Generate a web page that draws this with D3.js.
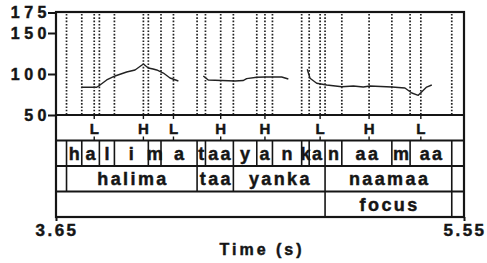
<!DOCTYPE html>
<html>
<head>
<meta charset="utf-8">
<script src="https://cdn.jsdelivr.net/npm/d3@7"></script>
<style>
  html, body { margin: 0; padding: 0; background: #fff; }
  svg { display: block; font-family: "Liberation Sans", Arial, sans-serif; font-weight: bold; }
  svg text { stroke: #151515; stroke-width: 0.45px; }
</style>
</head>
<body>
<svg id="chart"></svg>
<script>
const timeDomain = [3.65, 5.55];
const pitchDomain = [50, 175];
const pitchTicks = [50, 100, 150, 175];

// pitch track, [time s, Hz], three voiced stretches
const pitchRun1 = [[3.770, 83.8], [3.840, 83.8], [3.855, 86.6], [3.886, 92.7], [3.925, 97.6], [3.979, 102.4],
  [4.018, 104.9], [4.057, 112.2], [4.080, 107.3], [4.102, 106.1], [4.119, 104.9], [4.150, 101.2],
  [4.181, 95.1], [4.220, 91.5]];
const pitchRun2 = [[4.336, 97.6], [4.359, 92.7], [4.484, 91.5], [4.521, 92.0], [4.538, 94.3], [4.585, 96.0],
  [4.623, 96.3], [4.701, 96.3], [4.732, 93.9]];
const pitchRun3 = [[4.820, 105.7], [4.833, 94.8], [4.864, 88.7], [4.911, 86.6], [4.981, 84.5], [5.035, 85.4],
  [5.081, 84.1], [5.112, 85.4], [5.214, 84.1], [5.275, 82.9], [5.307, 76.8], [5.337, 74.0],
  [5.376, 84.1], [5.400, 86.6]];

const toneTimes = [3.828, 4.057, 4.197, 4.417, 4.623, 4.880, 5.108, 5.349];
const toneLabels = ["L", "H", "L", "H", "H", "L", "H", "L"];

const segBounds = [3.65, 3.699, 3.770, 3.852, 3.922, 4.080, 4.139, 4.307, 4.346, 4.476, 4.585, 4.658,
  4.794, 4.829, 4.903, 4.981, 5.214, 5.299, 5.493, 5.55];
const segLabels = ["", "h", "a", "l", "i", "m", "a", "t", "aa", "y", "a", "n", "k", "a", "n", "aa", "m", "aa", ""];

const wordBounds = [3.65, 3.699, 4.307, 4.476, 4.903, 5.493, 5.55];
const wordLabels = ["", "halima", "taa", "yanka", "naamaa", ""];

const focusBounds = [3.65, 4.903, 5.493, 5.55];
const focusLabels = ["", "focus", ""];

const W = 487, H = 263;
const mLeft = 56, mRight = 464, mTop = 12, plotBottom = 115;
const tierH = 25.5, mBottom = plotBottom + 4 * tierH;
const ink = "#151515";

const x = d3.scaleLinear(timeDomain, [mLeft, mRight]);
const y = d3.scaleLinear(pitchDomain, [plotBottom, mTop + 0.5]);

const svg = d3.select("#chart").attr("width", W).attr("height", H)
    .attr("viewBox", [0, 0, W, H]);

// dotted boundary lines in the pitch panel
const dotted = segBounds.slice(1, -1).concat(toneTimes);
svg.append("g")
    .attr("stroke", "#222")
    .attr("stroke-width", 1.7)
    .attr("stroke-dasharray", "1.6,1.7")
  .selectAll("line")
  .data(dotted)
  .join("line")
    .attr("x1", d => x(d)).attr("x2", d => x(d))
    .attr("y1", mTop + 2).attr("y2", plotBottom);

// pitch contour
const line = d3.line().x(d => x(d[0])).y(d => y(d[1]));
svg.append("g")
    .attr("fill", "none")
    .attr("stroke", "#222")
    .attr("stroke-width", 1.4)
    .attr("stroke-linejoin", "round")
  .selectAll("path")
  .data([pitchRun1, pitchRun2, pitchRun3])
  .join("path")
    .attr("d", line);

// interval tiers
const tiers = [
  {bounds: segBounds, labels: segLabels},
  {bounds: wordBounds, labels: wordLabels},
  {bounds: focusBounds, labels: focusLabels}
];
tiers.forEach((tier, i) => {
  const y0 = plotBottom + (i + 1) * tierH, y1 = y0 + tierH;
  const g = svg.append("g");
  g.selectAll("line")
    .data(tier.bounds.slice(1, -1))
    .join("line")
      .attr("x1", d => x(d)).attr("x2", d => x(d))
      .attr("y1", y0).attr("y2", y1)
      .attr("stroke", ink).attr("stroke-width", 1.6);
  const cells = d3.pairs(tier.bounds).map((p, j) => ({a: p[0], b: p[1], label: tier.labels[j]}));
  g.selectAll("text")
    .data(cells.filter(c => c.label))
    .join("text")
      .attr("x", d => (x(d.a) + x(d.b)) / 2 + 1.2)
      .attr("y", y1 - 6.5)
      .attr("text-anchor", "middle")
      .attr("font-size", 18)
      .attr("letter-spacing", 2.4)
      .attr("fill", ink)
      .text(d => d.label);
});

// tone tier
const tone = svg.append("g");
tone.selectAll("path")
  .data(toneTimes)
  .join("path")
    .attr("d", d => `M${x(d)},${plotBottom}v4M${x(d)},${plotBottom + tierH - 4}v4`)
    .attr("stroke", ink).attr("stroke-width", 1.4);
tone.selectAll("text")
  .data(toneTimes.map((t, i) => ({t, label: toneLabels[i]})))
  .join("text")
    .attr("x", d => x(d.t))
    .attr("y", plotBottom + 18.5)
    .attr("text-anchor", "middle")
    .attr("font-size", 15)
    .attr("fill", ink)
    .text(d => d.label);

// horizontal rules and frame
svg.append("g")
    .attr("stroke", ink).attr("stroke-width", 1.8)
  .selectAll("line")
  .data(d3.range(0, 4))
  .join("line")
    .attr("x1", mLeft).attr("x2", mRight)
    .attr("y1", i => plotBottom + i * tierH).attr("y2", i => plotBottom + i * tierH);

svg.append("rect")
    .attr("x", mLeft).attr("y", mTop)
    .attr("width", mRight - mLeft).attr("height", mBottom - mTop)
    .attr("fill", "none").attr("stroke", ink).attr("stroke-width", 2.2);

// y axis
svg.append("g")
    .attr("transform", `translate(${mLeft},0)`)
    .call(d3.axisLeft(y).tickValues(pitchTicks).tickSize(8))
    .call(g => g.select(".domain").remove())
    .call(g => g.selectAll(".tick line").attr("stroke", ink).attr("stroke-width", 2))
    .call(g => g.selectAll(".tick text")
      .attr("x", -5)
      .attr("fill", ink)
      .attr("font-size", 16)
      .attr("font-family", "Liberation Sans, Arial, sans-serif")
      .attr("font-weight", "bold")
      .attr("letter-spacing", 4.5));

// time axis
svg.append("g")
    .attr("transform", `translate(0,${mBottom})`)
    .call(d3.axisBottom(x).tickValues(timeDomain).tickSize(4).tickPadding(2.5).tickFormat(d3.format(".2f")))
    .call(g => g.select(".domain").remove())
    .call(g => g.selectAll(".tick line").attr("stroke", ink).attr("stroke-width", 2))
    .call(g => g.selectAll(".tick text")
      .attr("dx", 0.5)
      .attr("fill", ink)
      .attr("font-size", 17)
      .attr("font-family", "Liberation Sans, Arial, sans-serif")
      .attr("font-weight", "bold")
      .attr("letter-spacing", 2.5));

svg.append("text")
    .attr("x", (mLeft + mRight) / 2 + 2)
    .attr("y", 255)
    .attr("text-anchor", "middle")
    .attr("font-size", 16)
    .attr("letter-spacing", 3)
    .attr("fill", ink)
    .text("Time (s)");
</script>
</body>
</html>
